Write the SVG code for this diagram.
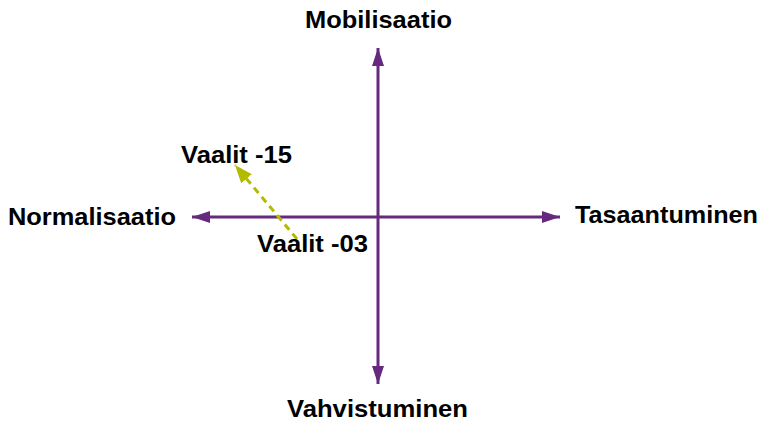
<svg xmlns="http://www.w3.org/2000/svg" width="761" height="423" viewBox="0 0 761 423">
<style>
text{font-family:"Liberation Sans",Arial,sans-serif;font-weight:bold;font-size:24px;fill:#000}
.ax{stroke:#652a7e;stroke-width:3;fill:none}
.dash{stroke:#b3bb00;stroke-width:3;stroke-dasharray:7,5;fill:none}
</style>
<defs>
<marker id="ap" markerWidth="18" markerHeight="12" refX="18" refY="6" orient="auto" markerUnits="userSpaceOnUse"><path d="M0,0 L18,6 L0,12 Z" fill="#652a7e"/></marker>
<marker id="ag" markerWidth="18" markerHeight="14" refX="18" refY="7" orient="auto" markerUnits="userSpaceOnUse"><path d="M0,0 L18,7 L0,14 Z" fill="#b3bb00"/></marker>
</defs>
<rect width="761" height="423" fill="#fff"/>
<g id="connectors">
<line class="ax" x1="378" y1="217" x2="378" y2="48" marker-end="url(#ap)"/>
<line class="ax" x1="378" y1="217" x2="378" y2="384" marker-end="url(#ap)"/>
<line class="ax" x1="378" y1="217" x2="560" y2="217" marker-end="url(#ap)"/>
<line class="ax" x1="378" y1="217" x2="192" y2="217" marker-end="url(#ap)"/>
<line class="dash" x1="297" y1="239" x2="235" y2="165" marker-end="url(#ag)"/>
</g>
<g id="mobilisaatio"><text x="305" y="28" textLength="147" lengthAdjust="spacingAndGlyphs">Mobilisaatio</text></g>
<g id="tasaantuminen"><text x="575" y="223" textLength="183" lengthAdjust="spacingAndGlyphs">Tasaantuminen</text></g>
<g id="normalisaatio"><text x="8" y="225" textLength="168" lengthAdjust="spacingAndGlyphs">Normalisaatio</text></g>
<g id="vahvistuminen"><text x="287" y="417" textLength="181" lengthAdjust="spacingAndGlyphs">Vahvistuminen</text></g>
<g id="vaalit15"><text x="181" y="163" textLength="111" lengthAdjust="spacingAndGlyphs">Vaalit -15</text></g>
<g id="vaalit03"><text x="257" y="252" textLength="111" lengthAdjust="spacingAndGlyphs">Vaalit -03</text></g>
</svg>
